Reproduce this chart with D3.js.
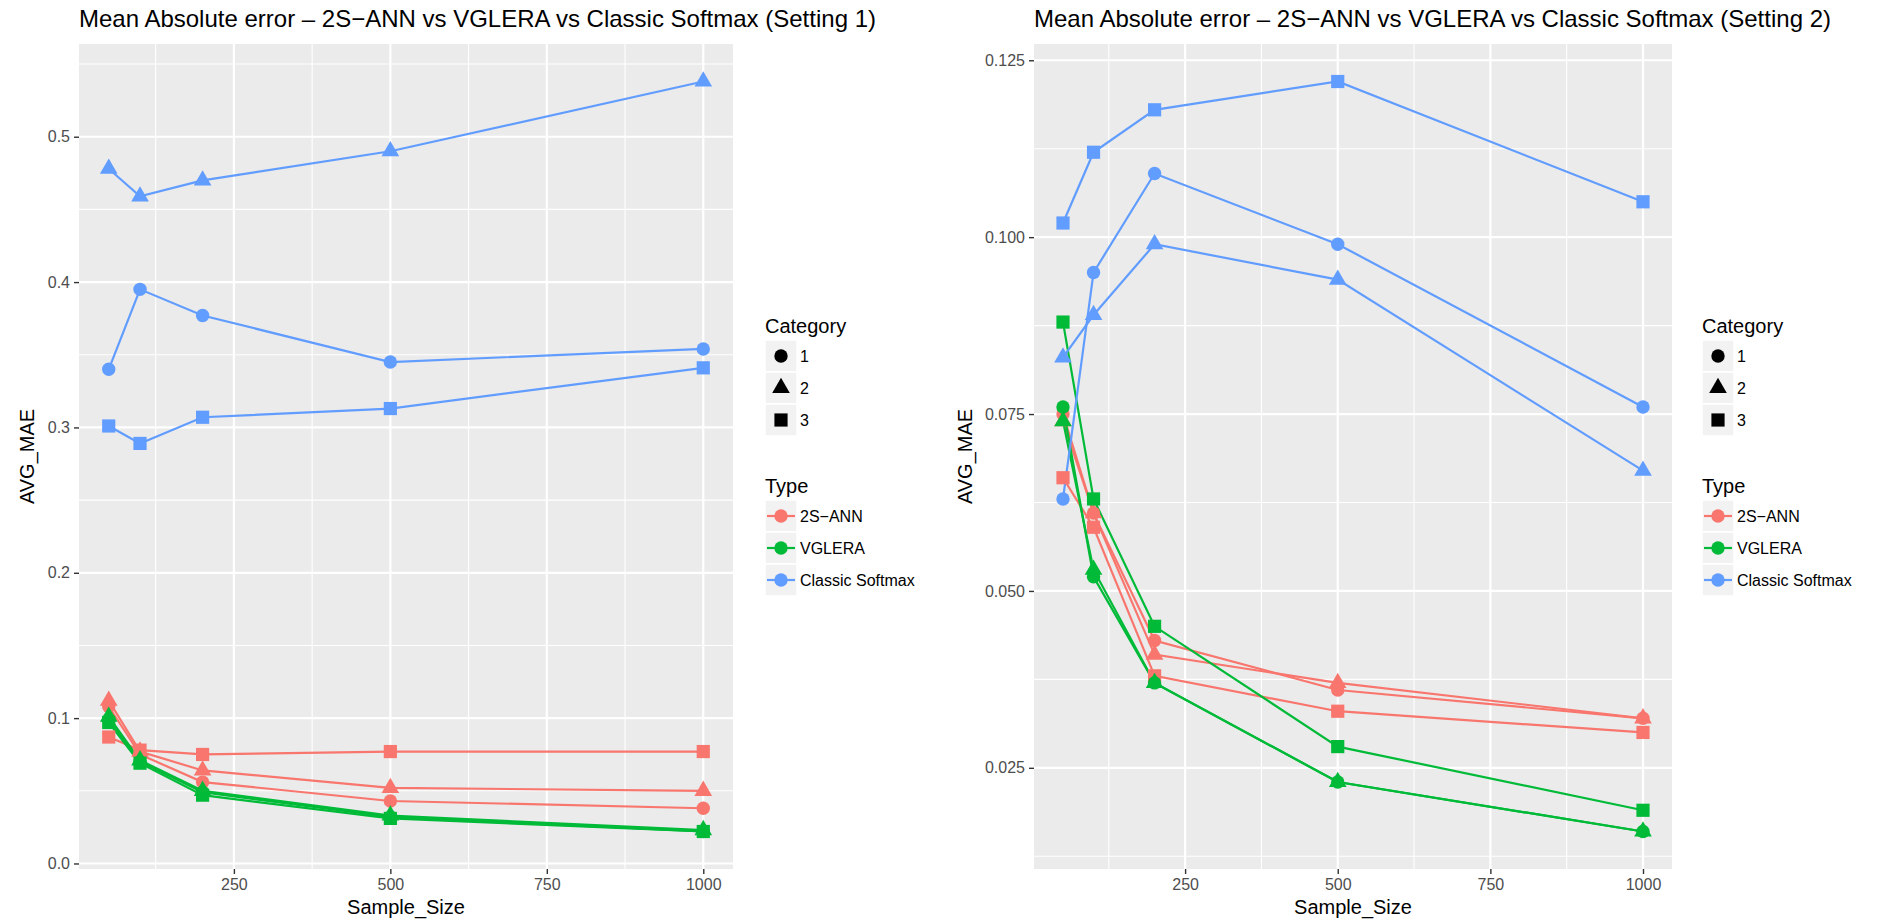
<!DOCTYPE html>
<html>
<head>
<meta charset="utf-8">
<script src="https://cdn.jsdelivr.net/npm/d3@7"></script>
<style>
body { margin: 0; background: #fff; }
text { font-family: "Liberation Sans", Arial, Helvetica, sans-serif; }
</style>
</head>
<body>
<svg width="1879" height="923"></svg>
<script>
var sampleSizes = [50, 100, 200, 500, 1000];
var types = ["2S\u2212ANN", "VGLERA", "Classic Softmax"];
var categories = ["1", "2", "3"];
var typeColors = ["#F8766D", "#00BA38", "#619CFF"];

// Setting 1, one row per category (1, 2, 3)
var s1Ann = [[0.108, 0.075, 0.056, 0.043, 0.038],
             [0.112, 0.077, 0.064, 0.052, 0.050],
             [0.087, 0.078, 0.075, 0.077, 0.077]];
var s1Vglera = [[0.099, 0.070, 0.049, 0.032, 0.022],
                [0.101, 0.071, 0.050, 0.033, 0.023],
                [0.097, 0.069, 0.047, 0.031, 0.022]];
var s1Softmax = [[0.340, 0.395, 0.377, 0.345, 0.354],
                 [0.478, 0.459, 0.470, 0.490, 0.538],
                 [0.301, 0.289, 0.307, 0.313, 0.341]];

// Setting 2
var s2Ann = [[0.075, 0.061, 0.043, 0.036, 0.032],
             [0.074, 0.061, 0.041, 0.037, 0.032],
             [0.066, 0.059, 0.038, 0.033, 0.030]];
var s2Vglera = [[0.076, 0.052, 0.037, 0.023, 0.016],
                [0.074, 0.053, 0.037, 0.023, 0.016],
                [0.088, 0.063, 0.045, 0.028, 0.019]];
var s2Softmax = [[0.063, 0.095, 0.109, 0.099, 0.076],
                 [0.083, 0.089, 0.099, 0.094, 0.067],
                 [0.102, 0.112, 0.118, 0.122, 0.105]];

var xTicks = [250, 500, 750, 1000];
var s1YTicks = [0, 0.1, 0.2, 0.3, 0.4, 0.5];
var s2YTicks = [0.025, 0.05, 0.075, 0.1, 0.125];
var titles = ["Mean Absolute error \u2013 2S\u2212ANN vs VGLERA vs Classic Softmax (Setting 1)",
              "Mean Absolute error \u2013 2S\u2212ANN vs VGLERA vs Classic Softmax (Setting 2)"];

var svg = d3.select("svg");

var panelTop = 44, panelBottom = 869;
var panels = [
  {title: titles[0], series: [s1Ann, s1Vglera, s1Softmax], yTicks: s1YTicks, fmt: ".1f", left: 79, right: 733, legendX: 765},
  {title: titles[1], series: [s2Ann, s2Vglera, s2Softmax], yTicks: s2YTicks, fmt: ".3f", left: 1034, right: 1672, legendX: 1702}
];

var shapes = [d3.symbolCircle, d3.symbolTriangle, d3.symbolSquare];
var shapeSizes = [141, 135, 174];

function expand(ext) {
  var d = (ext[1] - ext[0]) * 0.05;
  return [ext[0] - d, ext[1] + d];
}

function minorTicks(ticks, domain) {
  var step = ticks[1] - ticks[0], out = [];
  for (var t = ticks[0] - step / 2; t <= domain[1]; t += step) {
    if (t >= domain[0]) out.push(t);
  }
  return out;
}

panels.forEach(function(p) {
  var allValues = d3.merge(p.series.map(function(s) { return d3.merge(s); }));

  var x = d3.scaleLinear()
    .domain(expand(d3.extent(sampleSizes)))
    .range([p.left, p.right]);
  var y = d3.scaleLinear()
    .domain(expand(d3.extent(allValues)))
    .range([panelBottom, panelTop]);

  var g = svg.append("g");

  g.append("rect")
    .attr("x", p.left)
    .attr("y", panelTop)
    .attr("width", p.right - p.left)
    .attr("height", panelBottom - panelTop)
    .attr("fill", "#EBEBEB");

  // grid lines, minor then major
  g.selectAll(".xminor")
    .data(minorTicks(xTicks, x.domain()))
    .enter().append("line")
    .attr("x1", function(d) { return x(d); })
    .attr("x2", function(d) { return x(d); })
    .attr("y1", panelTop).attr("y2", panelBottom)
    .attr("stroke", "#fff").attr("stroke-width", 1.1);
  g.selectAll(".yminor")
    .data(minorTicks(p.yTicks, y.domain()))
    .enter().append("line")
    .attr("y1", function(d) { return y(d); })
    .attr("y2", function(d) { return y(d); })
    .attr("x1", p.left).attr("x2", p.right)
    .attr("stroke", "#fff").attr("stroke-width", 1.1);
  g.selectAll(".xmajor")
    .data(xTicks)
    .enter().append("line")
    .attr("x1", function(d) { return x(d); })
    .attr("x2", function(d) { return x(d); })
    .attr("y1", panelTop).attr("y2", panelBottom)
    .attr("stroke", "#fff").attr("stroke-width", 2.2);
  g.selectAll(".ymajor")
    .data(p.yTicks)
    .enter().append("line")
    .attr("y1", function(d) { return y(d); })
    .attr("y2", function(d) { return y(d); })
    .attr("x1", p.left).attr("x2", p.right)
    .attr("stroke", "#fff").attr("stroke-width", 2.2);

  // axes
  var xAxis = g.append("g")
    .attr("transform", "translate(0," + panelBottom + ")")
    .call(d3.axisBottom(x).tickValues(xTicks).tickSize(5).tickPadding(5).tickFormat(d3.format("d")));
  var yAxis = g.append("g")
    .attr("transform", "translate(" + p.left + ",0)")
    .call(d3.axisLeft(y).tickValues(p.yTicks).tickSize(5).tickPadding(4).tickFormat(d3.format(p.fmt)));
  [xAxis, yAxis].forEach(function(a) {
    a.select(".domain").remove();
    a.selectAll("line").attr("stroke", "#333333").attr("stroke-width", 1.4);
    a.selectAll("text")
      .attr("fill", "#4D4D4D")
      .style("font-size", "16px")
      .style("font-family", "'Liberation Sans', Arial, Helvetica, sans-serif");
  });

  // series lines
  var line = d3.line()
    .x(function(d, i) { return x(sampleSizes[i]); })
    .y(function(d) { return y(d); });

  p.series.forEach(function(s, ti) {
    s.forEach(function(vals) {
      g.append("path")
        .attr("d", line(vals))
        .attr("fill", "none")
        .attr("stroke", typeColors[ti])
        .attr("stroke-width", 2.2);
    });
  });

  p.series.forEach(function(s, ti) {
    s.forEach(function(vals, ci) {
      g.selectAll(null)
        .data(vals)
        .enter().append("path")
        .attr("d", d3.symbol().type(shapes[ci]).size(shapeSizes[ci]))
        .attr("transform", function(d, i) { return "translate(" + x(sampleSizes[i]) + "," + y(d) + ")"; })
        .attr("fill", typeColors[ti]);
    });
  });

  // titles
  g.append("text")
    .attr("x", p.left)
    .attr("y", 27)
    .style("font-size", "24px")
    .attr("fill", "#000")
    .text(p.title);

  g.append("text")
    .attr("x", (p.left + p.right) / 2)
    .attr("y", 914)
    .attr("text-anchor", "middle")
    .style("font-size", "20px")
    .text("Sample_Size");

  var yTitleX = p.left === 79 ? 34 : 972;
  g.append("text")
    .attr("transform", "translate(" + yTitleX + "," + (panelTop + panelBottom) / 2 + ")rotate(-90)")
    .attr("text-anchor", "middle")
    .style("font-size", "20px")
    .text("AVG_MAE");

  drawLegend(g, p.legendX);
});

function drawLegend(g, lx) {
  var keySize = 32;

  g.append("text")
    .attr("x", lx).attr("y", 333)
    .style("font-size", "20px")
    .text("Category");

  categories.forEach(function(c, i) {
    var ky = 340 + i * keySize;
    g.append("rect")
      .attr("x", lx).attr("y", ky)
      .attr("width", keySize).attr("height", keySize)
      .attr("fill", "#F2F2F2").attr("stroke", "#fff").attr("stroke-width", 1.5);
    g.append("path")
      .attr("d", d3.symbol().type(shapes[i]).size(shapeSizes[i]))
      .attr("transform", "translate(" + (lx + keySize / 2) + "," + (ky + keySize / 2) + ")")
      .attr("fill", "#000");
    g.append("text")
      .attr("x", lx + keySize + 3).attr("y", ky + keySize / 2 + 6)
      .style("font-size", "16px")
      .text(c);
  });

  g.append("text")
    .attr("x", lx).attr("y", 493)
    .style("font-size", "20px")
    .text("Type");

  types.forEach(function(t, i) {
    var ky = 500 + i * keySize;
    g.append("rect")
      .attr("x", lx).attr("y", ky)
      .attr("width", keySize).attr("height", keySize)
      .attr("fill", "#F2F2F2").attr("stroke", "#fff").attr("stroke-width", 1.5);
    g.append("line")
      .attr("x1", lx + 2).attr("x2", lx + keySize - 2)
      .attr("y1", ky + keySize / 2).attr("y2", ky + keySize / 2)
      .attr("stroke", typeColors[i]).attr("stroke-width", 2.2);
    g.append("circle")
      .attr("cx", lx + keySize / 2).attr("cy", ky + keySize / 2)
      .attr("r", 6.7)
      .attr("fill", typeColors[i]);
    g.append("text")
      .attr("x", lx + keySize + 3).attr("y", ky + keySize / 2 + 6)
      .style("font-size", "16px")
      .text(t);
  });
}
</script>
</body>
</html>
